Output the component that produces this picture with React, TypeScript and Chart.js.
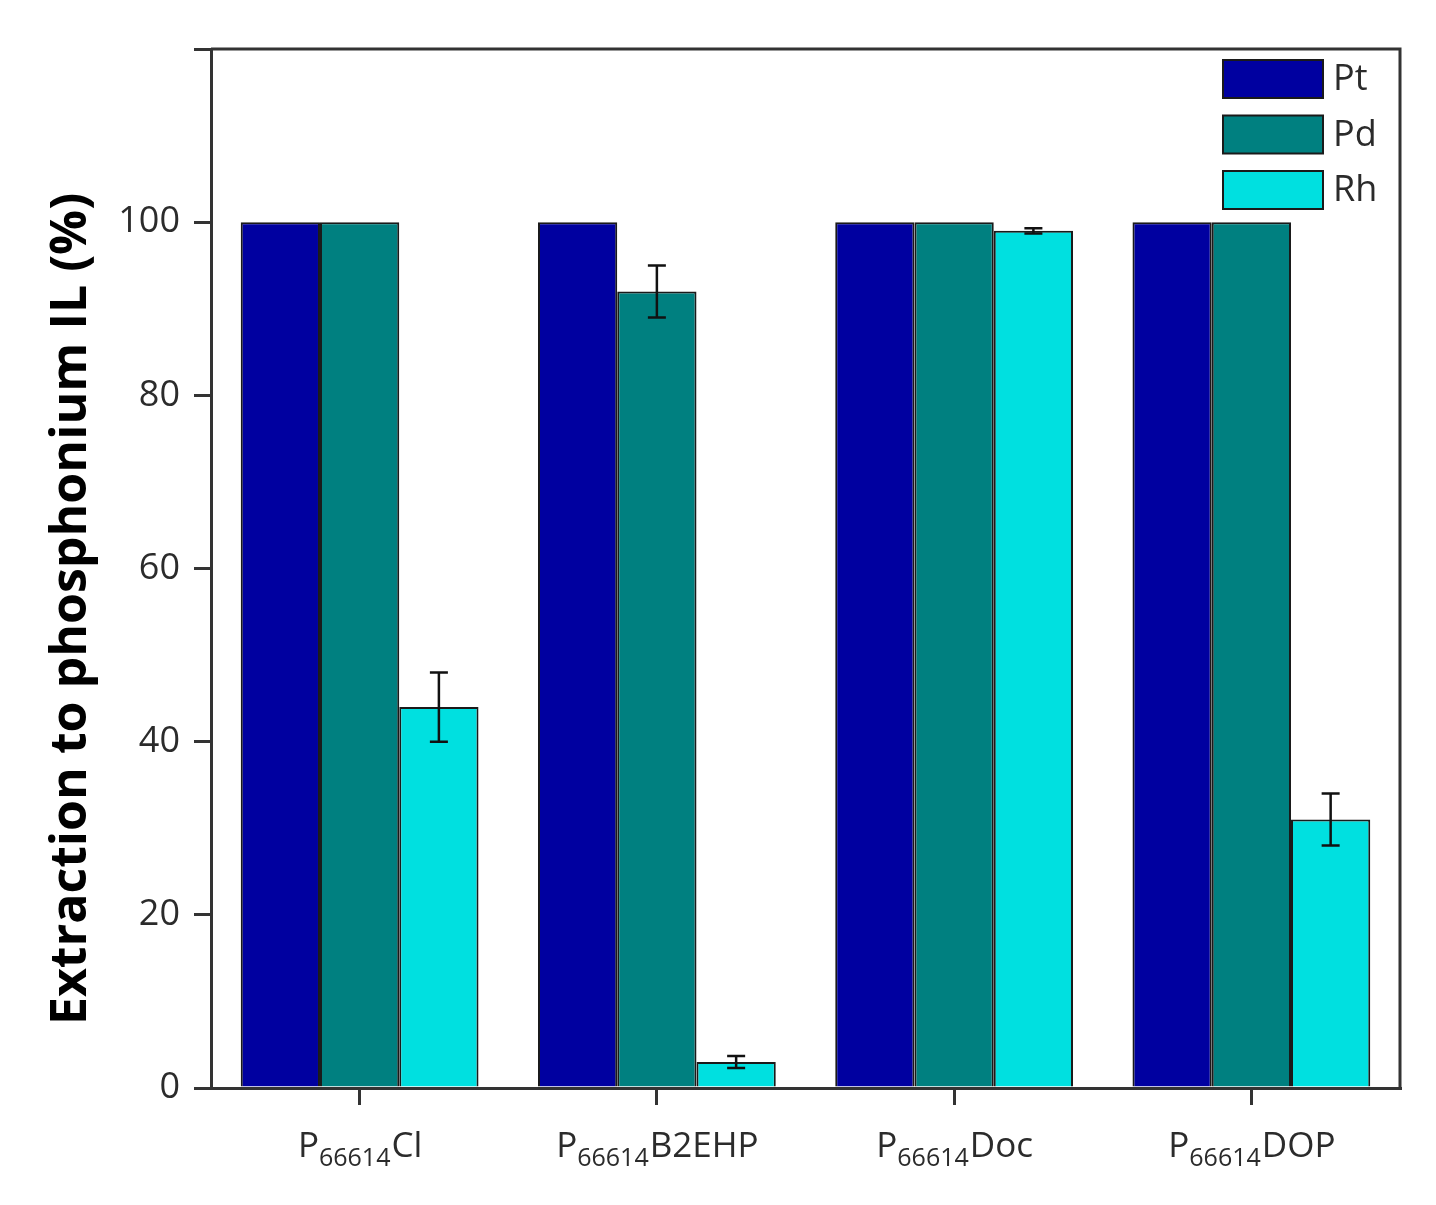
import React, { useEffect, useRef } from 'react';
import { Chart, registerables } from 'chart.js';

Chart.register(...registerables);

// ---- data ----
const categorySuffixes = ['Cl', 'B2EHP', 'Doc', 'DOP'];
const labelPrefix = 'P';
const labelSubscript = '66614';
const seriesNames = ['Pt', 'Pd', 'Rh'];
const ptValues = [100, 100, 100, 100];
const pdValues = [100, 92, 100, 100];
const rhValues = [44, 3, 99, 31];
const ptErrors = [0, 0, 0, 0];
const pdErrors = [0, 3, 0, 0];
const rhErrors = [4, 0.7, 0.3, 3];
const yMin = 0;
const yMax = 120;
const yStep = 20;
const yAxisTitle = 'Extraction to phosphonium IL (%)';

const seriesColors = ['#0000a0', '#008080', '#00e0e0'];
const seriesValues = [ptValues, pdValues, rhValues];
const seriesErrors = [ptErrors, pdErrors, rhErrors];

const TEXT = '#2b2b2b';
const LINE = '#333333';
const FONT = '"Open Sans", "DejaVu Sans", sans-serif';

const W = 1420;
const H = 1190;

const decorPlugin = {
  id: 'decor',
  afterDatasetsDraw(chart: any) {
    const ctx = chart.ctx;
    const y = chart.scales.y;
    // error bars
    ctx.save();
    ctx.strokeStyle = '#111111';
    ctx.lineWidth = 2.5;
    chart.data.datasets.forEach((ds: any, di: number) => {
      const meta = chart.getDatasetMeta(di);
      const errs = seriesErrors[di];
      meta.data.forEach((el: any, i: number) => {
        const e = errs[i];
        if (!e) return;
        const v = ds.data[i];
        const x = el.x;
        const yt = y.getPixelForValue(v + e);
        const yb = y.getPixelForValue(v - e);
        const cap = 9;
        ctx.beginPath();
        ctx.moveTo(x, yt);
        ctx.lineTo(x, yb);
        ctx.moveTo(x - cap, yt);
        ctx.lineTo(x + cap, yt);
        ctx.moveTo(x - cap, yb);
        ctx.lineTo(x + cap, yb);
        ctx.stroke();
      });
    });
    ctx.restore();
  },
  afterDraw(chart: any) {
    const ctx = chart.ctx;
    const area = chart.chartArea;
    const xs = chart.scales.x;

    // top and right frame lines
    ctx.save();
    ctx.strokeStyle = LINE;
    ctx.lineWidth = 3;
    ctx.beginPath();
    ctx.moveTo(area.left, area.top);
    ctx.lineTo(area.right, area.top);
    ctx.lineTo(area.right, area.bottom);
    ctx.stroke();
    ctx.restore();

    // x category labels with subscript
    ctx.save();
    ctx.fillStyle = TEXT;
    ctx.textBaseline = 'alphabetic';
    ctx.textAlign = 'left';
    const mainFont = `35px ${FONT}`;
    const subFont = `25px ${FONT}`;
    const baseY = area.bottom + 69;
    categorySuffixes.forEach((suf, i) => {
      const cx = xs.getPixelForTick(i);
      ctx.font = mainFont;
      const wP = ctx.measureText(labelPrefix).width;
      const wS = ctx.measureText(suf).width;
      ctx.font = subFont;
      const wSub = ctx.measureText(labelSubscript).width;
      const total = wP + wSub + wS;
      const x0 = cx - total / 2;
      ctx.font = mainFont;
      ctx.fillText(labelPrefix, x0, baseY);
      ctx.font = subFont;
      ctx.fillText(labelSubscript, x0 + wP, baseY + 9);
      ctx.font = mainFont;
      ctx.fillText(suf, x0 + wP + wSub + 1, baseY);
    });
    ctx.restore();

    // y axis title
    ctx.save();
    ctx.fillStyle = '#000000';
    ctx.font = `bold 50px ${FONT}`;
    ctx.textAlign = 'center';
    ctx.textBaseline = 'alphabetic';
    ctx.translate(78, 601);
    ctx.rotate(-Math.PI / 2);
    ctx.fillText(yAxisTitle, 0, 0);
    ctx.restore();

    // legend
    ctx.save();
    const lx = area.right - 177;
    const ly = area.top + 11;
    const bw = 100;
    const bh = 38;
    const gap = 55.5;
    ctx.font = `36px ${FONT}`;
    ctx.textBaseline = 'middle';
    ctx.textAlign = 'left';
    seriesNames.forEach((name, i) => {
      const by = ly + i * gap;
      ctx.fillStyle = seriesColors[i];
      ctx.fillRect(lx, by, bw, bh);
      ctx.strokeStyle = '#1a1a1a';
      ctx.lineWidth = 2;
      ctx.strokeRect(lx, by, bw, bh);
      ctx.fillStyle = TEXT;
      ctx.fillText(name, lx + bw + 10, by + bh / 2 + 1);
    });
    ctx.restore();
  },
};

export default function App() {
  const ref = useRef<HTMLCanvasElement | null>(null);
  useEffect(() => {
    if (!ref.current) return;
    const chart = new Chart(ref.current, {
      type: 'bar',
      data: {
        labels: categorySuffixes.map((s) => labelPrefix + labelSubscript + s),
        datasets: seriesNames.map((name, i) => ({
          label: name,
          data: seriesValues[i],
          backgroundColor: seriesColors[i],
          borderColor: '#1a1a1a',
          borderWidth: 2,
          categoryPercentage: 0.8,
          barPercentage: 1.0,
        })),
      },
      options: {
        responsive: false,
        animation: false,
        devicePixelRatio: 1,
        layout: { padding: { left: 0, top: 41, right: 28, bottom: 0 } },
        plugins: {
          legend: { display: false },
          tooltip: { enabled: false },
        },
        scales: {
          x: {
            type: 'category',
            offset: true,
            grid: {
              offset: false,
              drawOnChartArea: false,
              drawTicks: true,
              tickLength: 17,
              tickColor: LINE,
              tickWidth: 3,
              color: LINE,
              lineWidth: 3,
            },
            border: { display: true, color: LINE, width: 3 },
            ticks: {
              callback: () => '',
              font: { size: 35, family: FONT },
            },
            afterFit: (scale: any) => {
              scale.height = H - 1080;
            },
          },
          y: {
            min: yMin,
            max: yMax,
            ticks: {
              stepSize: yStep,
              color: TEXT,
              padding: 14,
              font: { size: 36, family: FONT },
              callback: (v: any) => (Number(v) === yMax ? '' : String(v)),
            },
            grid: {
              drawOnChartArea: false,
              drawTicks: true,
              tickLength: 17,
              tickColor: LINE,
              tickWidth: 3,
              color: LINE,
              lineWidth: 3,
            },
            border: { display: true, color: LINE, width: 3 },
            afterFit: (scale: any) => {
              scale.width = 203;
            },
          },
        },
      },
      plugins: [decorPlugin],
    });
    return () => chart.destroy();
  }, []);
  return (
    <div style={{ width: W, height: H, background: '#ffffff' }}>
      <canvas ref={ref} width={W} height={H} style={{ display: 'block' }} />
    </div>
  );
}
